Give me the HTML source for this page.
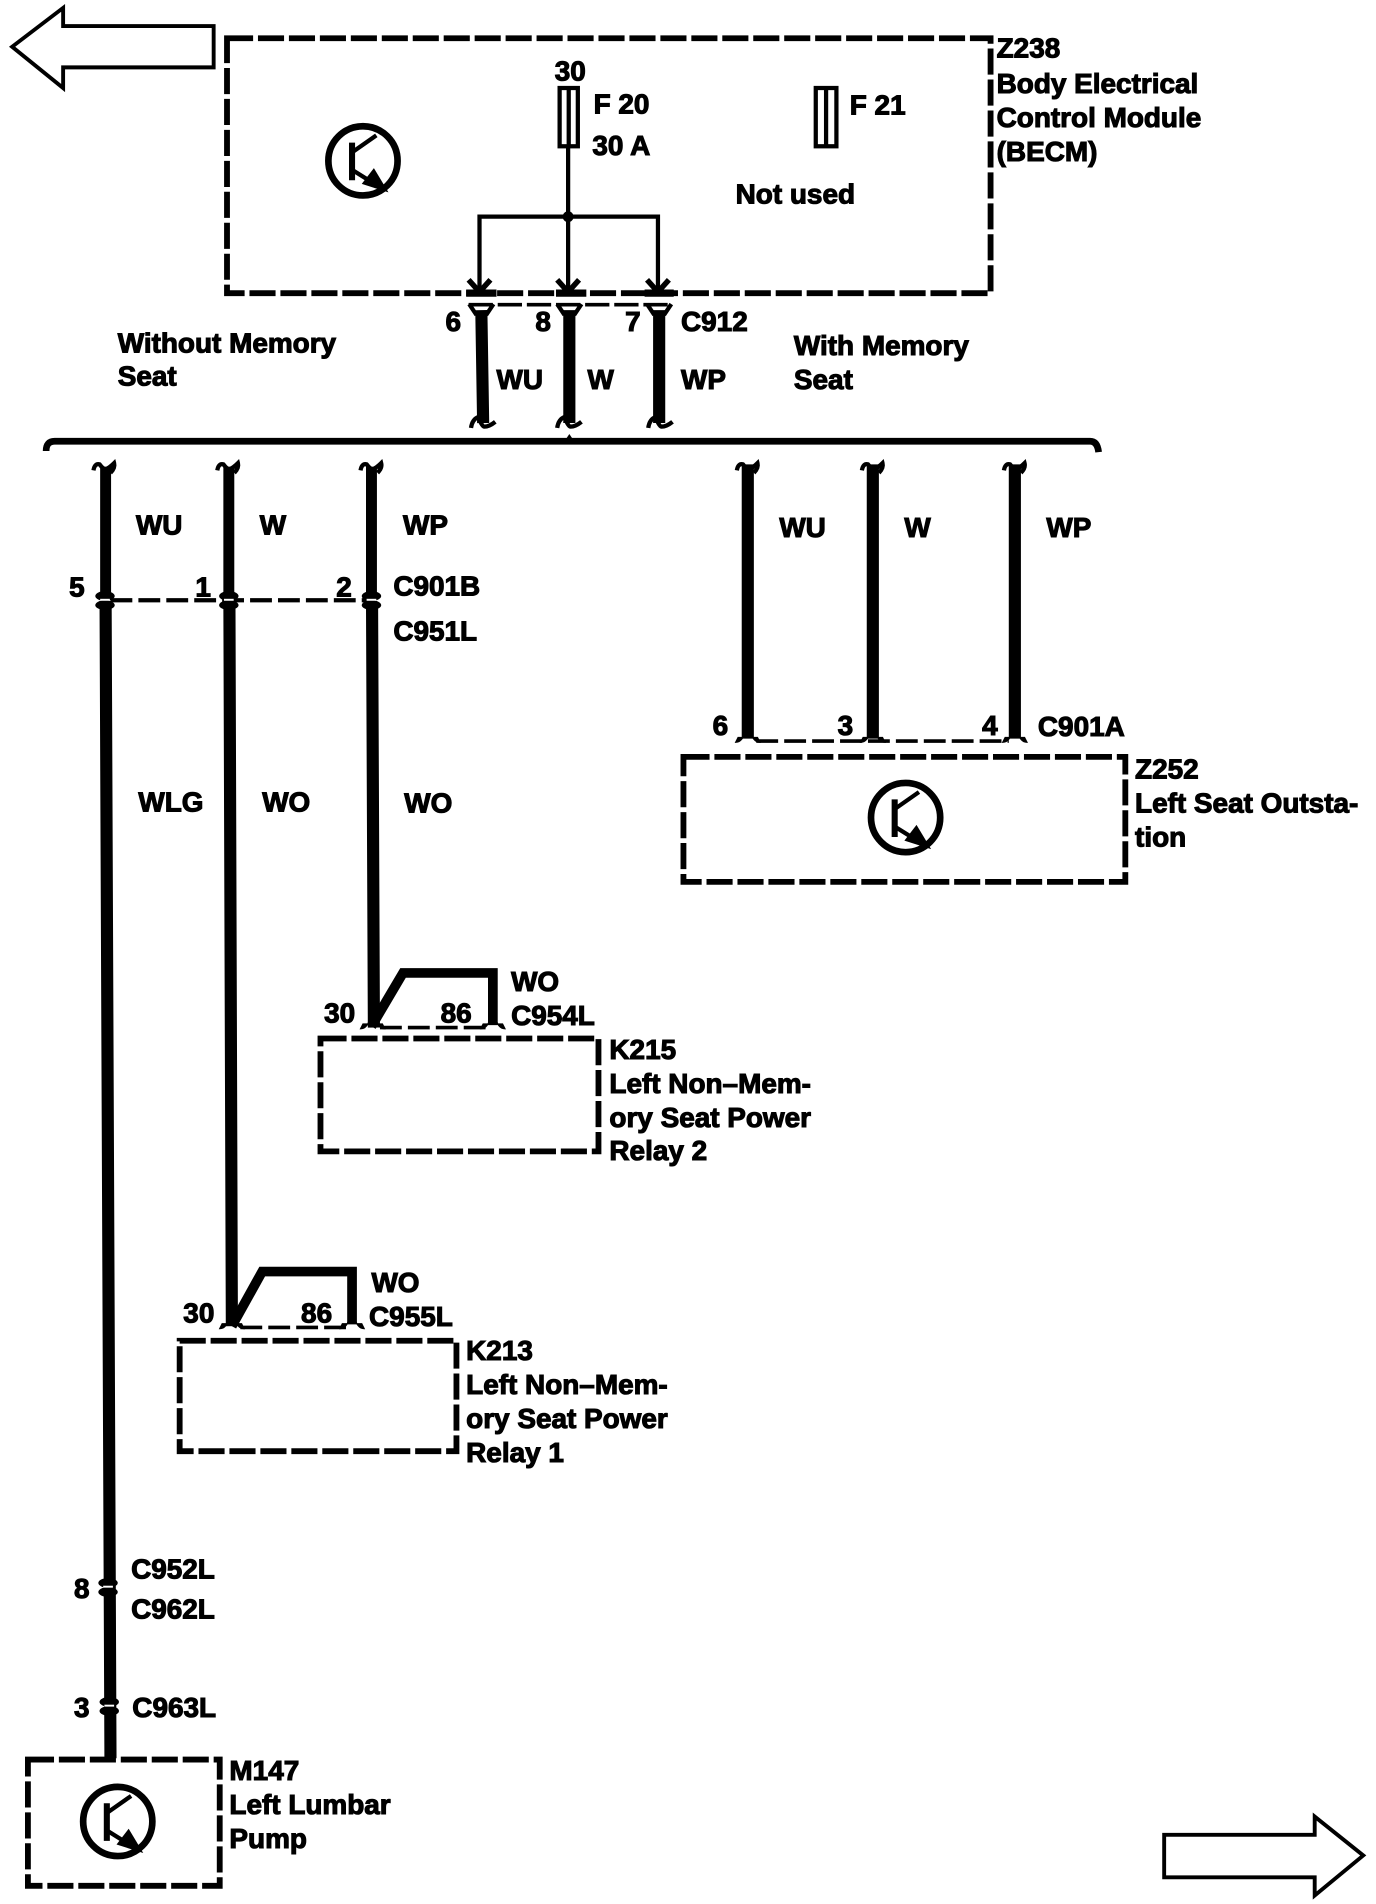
<!DOCTYPE html>
<html><head><meta charset="utf-8"><style>
html,body{margin:0;padding:0;background:#fff}
svg{display:block}
text{font-family:"Liberation Sans",sans-serif;font-weight:bold;font-size:23px;fill:#000;stroke:#000;stroke-width:.9}
.d{fill:none;stroke:#000;stroke-width:4.8;stroke-dasharray:21.500 4;stroke-linecap:butt}
.w{fill:none;stroke:#000;stroke-width:9}
.x{fill:none;stroke:#000;stroke-width:10}
.t{fill:none;stroke:#000;stroke-width:3.5}
.f{fill:none;stroke:#000;stroke-width:3.5}
</style></head><body>
<svg xmlns="http://www.w3.org/2000/svg" width="1376" height="1904" viewBox="-1 -0.5 1133.5 1568.5" preserveAspectRatio="none">
<defs>
<g id="q"><circle cx="0" cy="0" r="28.500" fill="none" stroke="#000" stroke-width="5.500"/><path d="M-9-15V16" stroke="#000" stroke-width="5" fill="none"/><path d="M-9-7L11-21M-8 8L8 18" stroke="#000" stroke-width="3.500" fill="none"/><path d="M21 26L-1 19L9 6Z" fill="#000"/></g>
<g id="ft"><path d="M-9 3Q-8-3-4-2Q-1 2 1 2Q4 1 8-3Q9 1 5 5" fill="none" stroke="#000" stroke-width="3.500"/></g>
<g id="fu"><path d="M-10-4L-4 5M10-4L4 5" fill="none" stroke="#000" stroke-width="3.500"/></g>
<g id="fb"><path d="M-10 7Q-9 0-4-2Q-1 6 1 6Q5 6 10 2" fill="none" stroke="#000" stroke-width="3.500"/></g>
<g id="fl"><path d="M-10 4Q-4 4-2-6H2Q4 4 10 4L8 0H-8Z" fill="#000" stroke="#000"/></g>
<g id="c"><ellipse cx="0" cy="-3.500" rx="8" ry="4"/><ellipse cx="0" cy="4" rx="8" ry="4"/><rect x="-4" y="-1.200" width="8" height="1.600" fill="#fff"/></g>
</defs>

<path d="M9 38L51 6V21H175V55H51V72Z" fill="none" stroke="#000" stroke-width="3.200"/>
<path d="M958 1511H1082V1496L1122 1528L1082 1561V1546H958Z" fill="none" stroke="#000" stroke-width="3.200"/>

<rect class="d" x="186" y="31" width="629" height="210"/>
<use href="#q" x="298" y="132"/>
<rect x="460" y="72" width="15" height="48" fill="none" stroke="#000" stroke-width="3.500"/><path d="M467.500 72V120" class="f"/>
<rect x="671" y="72" width="17" height="48" fill="none" stroke="#000" stroke-width="3.500"/><path d="M679.500 72V120" class="f"/>
<path class="t" d="M467 120V238M394 238V178H541V238"/>
<circle cx="467" cy="178" r="4.500"/>
<path d="M385 230L394 240L403 230M458 230L467 240L476 230M532 230L541 240L550 230" fill="none" stroke="#000" stroke-width="4.500"/>
<path d="M383 241H408M457 241H482M530 241H554" stroke="#000" stroke-width="6"/>

<path d="M385 250.500H552" stroke="#000" stroke-width="3" stroke-dasharray="20 4" fill="none"/>
<path class="x" d="M395.500 255L397 348M468 255V348M542 255V348"/>
<use href="#fu" x="395.500" y="254"/><use href="#fu" x="468" y="254"/><use href="#fu" x="542" y="254"/>
<use href="#fb" x="397" y="345"/><use href="#fb" x="468" y="345"/><use href="#fb" x="543" y="345"/>

<path d="M37 371Q37 363 44 363H897Q903 363 904 372" fill="none" stroke="#000" stroke-width="5.500"/>
<path d="M468 357L472 363H464Z"/>

<path class="w" d="M86 384V490M187.500 384V490M305 384V490"/>
<use href="#ft" x="85" y="384"/><use href="#ft" x="187" y="384"/><use href="#ft" x="305" y="384"/>
<path d="M90 494H302" stroke="#000" stroke-width="3.500" stroke-dasharray="18 5" fill="none"/>
<use href="#c" x="85.500" y="494"/><use href="#c" x="187.500" y="494"/><use href="#c" x="305" y="494"/>
<path class="x" d="M86 500L90 1448M188 500L190 1092M305.500 500L307 846"/>

<path class="x" d="M615 382V608M718 382V608M835 382V608"/>
<use href="#ft" x="615" y="384"/><use href="#ft" x="718" y="384"/><use href="#ft" x="835" y="384"/>
<path d="M622 610H830" stroke="#000" stroke-width="3" stroke-dasharray="18 5" fill="none"/>
<use href="#fl" x="615" y="607"/><use href="#fl" x="718" y="607"/><use href="#fl" x="835" y="607"/>
<rect class="d" x="562" y="623" width="364" height="103"/>
<use href="#q" x="745" y="673"/>

<path d="M305 845L331 801H405V844" fill="none" stroke="#000" stroke-width="8"/>
<path d="M312 846H400" stroke="#000" stroke-width="3" stroke-dasharray="18 5" fill="none"/>
<use href="#fl" x="306" y="843"/><use href="#fl" x="405" y="843"/>
<rect class="d" x="263" y="855" width="229" height="93"/>

<path d="M190 1092L215 1047H289V1090" fill="none" stroke="#000" stroke-width="8"/>
<path d="M197 1093H284" stroke="#000" stroke-width="3" stroke-dasharray="18 5" fill="none"/>
<use href="#fl" x="190" y="1090"/><use href="#fl" x="289" y="1090"/>
<rect class="d" x="147" y="1104" width="228" height="91"/>

<use href="#c" x="88" y="1307"/><use href="#c" x="89" y="1405"/>
<rect class="d" x="22" y="1449" width="158" height="104"/>
<use href="#q" x="96" y="1500"/>

<text x="456" y="66">30</text><text x="488" y="93">F 20</text><text x="487" y="127">30 A</text>
<text x="699" y="94">F 21</text><text x="605" y="167">Not used</text>
<text x="820" y="47">Z238</text><text x="820" y="76">Body Electrical</text><text x="820" y="104">Control Module</text><text x="820" y="132">(BECM)</text>
<text x="366" y="272">6</text><text x="440" y="272">8</text><text x="514" y="272">7</text><text x="560" y="272">C912</text>
<text x="96" y="290">Without Memory</text><text x="96" y="317">Seat</text>
<text x="653" y="292">With Memory</text><text x="653" y="320">Seat</text>
<text x="408" y="320">WU</text><text x="483" y="320">W</text><text x="560" y="320">WP</text>
<text x="111" y="440">WU</text><text x="213" y="440">W</text><text x="331" y="440">WP</text>
<text x="641" y="442">WU</text><text x="744" y="442">W</text><text x="861" y="442">WP</text>
<text x="56" y="491">5</text><text x="160" y="491">1</text><text x="276" y="491">2</text><text x="323" y="490">C901B</text><text x="323" y="527">C951L</text>
<text x="113" y="668">WLG</text><text x="215" y="668">WO</text><text x="332" y="669">WO</text>
<text x="586" y="605">6</text><text x="689" y="605">3</text><text x="808" y="605">4</text><text x="854" y="606">C901A</text>
<text x="934" y="641">Z252</text><text x="934" y="669">Left Seat Outsta-</text><text x="934" y="697">tion</text>
<text x="420" y="816">WO</text><text x="420" y="844">C954L</text><text x="266" y="842">30</text><text x="362" y="842">86</text>
<text x="501" y="872">K215</text><text x="501" y="900">Left Non–Mem-</text><text x="501" y="928">ory Seat Power</text><text x="501" y="955">Relay 2</text>
<text x="305" y="1064">WO</text><text x="303" y="1092">C955L</text><text x="150" y="1089">30</text><text x="247" y="1089">86</text>
<text x="383" y="1120">K213</text><text x="383" y="1148">Left Non–Mem-</text><text x="383" y="1176">ory Seat Power</text><text x="383" y="1204">Relay 1</text>
<text x="107" y="1300">C952L</text><text x="60" y="1316">8</text><text x="107" y="1333">C962L</text><text x="60" y="1414">3</text><text x="108" y="1414">C963L</text>
<text x="188" y="1466">M147</text><text x="188" y="1494">Left Lumbar</text><text x="188" y="1522">Pump</text>
</svg>
</body></html>
